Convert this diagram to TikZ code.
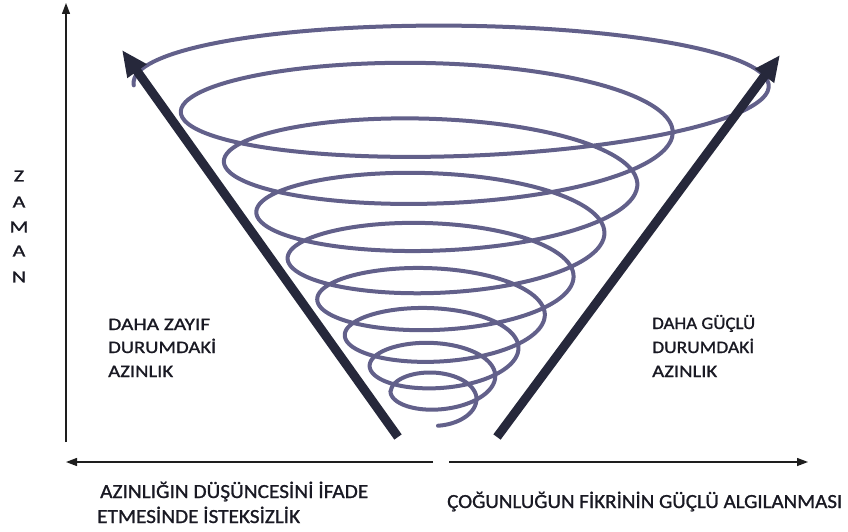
\documentclass[tikz,border=0pt]{standalone}
\usepackage{fontspec}
\setmainfont{Carlito}
\newfontfamily\lblfont{Carlito}[FakeBold=1]
\usepackage{graphicx}
\usetikzlibrary{arrows.meta}
\definecolor{spiralc}{RGB}{98,96,138}
\definecolor{arrc}{RGB}{38,40,59}
\definecolor{axc}{RGB}{30,30,30}
\definecolor{txc}{RGB}{25,25,35}
\newcommand{\fitw}[2]{\resizebox{#1}{\height}{#2}}
\begin{document}
\begin{tikzpicture}[x=1pt,y=-1pt,
  declare function={
    ww(\u)=32.4+217.6*pow((9-\u)/8,1.3)+60*exp(-((\u-0.4)/0.45)*((\u-0.4)/0.45));
    pp(\u)=64.25-5.17*\u;
    hh(\u)=1.05*pp(\u)-10*exp(-\u);
    cyy(\u)=41.33+64.25*\u-2.583*\u*\u+44*exp(-2*\u);
    cxx(\u)=438+9*exp(-\u);
  },
  axis/.style={draw=axc,line width=1.3pt},
  bigarrow/.style={draw=arrc,line width=9pt,-{Triangle[length=26pt,width=22pt]}},
  txt/.style={inner sep=0pt,text=txc,font=\lblfont\fontsize{17.5}{21}\selectfont},
  btxt/.style={inner sep=0pt,text=txc,font=\lblfont\fontsize{20}{24}\selectfont},
  ztxt/.style={inner sep=0pt,text=txc,font=\lblfont\fontsize{17}{20}\selectfont}
]
\useasboundingbox (0,0) rectangle (848,532);
\fill[white] (0,0) rectangle (848,532);

% axes
\coordinate (vb) at (66,442);
\coordinate (vt) at (66,3);
\draw[axis,-{Triangle[length=11pt,width=8pt]}] (vb) -- (vt);
\coordinate (hl0) at (433,462);
\coordinate (hl1) at (66,462);
\coordinate (hr0) at (449,462);
\coordinate (hr1) at (808,462);
\draw[axis,-{Triangle[length=11pt,width=8pt]}] (hl0) -- (hl1);
\draw[axis,-{Triangle[length=11pt,width=8pt]}] (hr0) -- (hr1);

% spiral
\draw[spiralc,line width=4pt,line cap=round,line join=round]
  plot[domain=0:3150,samples=900,smooth,variable=\t]
  ({cxx(\t/360)-ww(\t/360)*cos(\t)},{cyy(\t/360)-hh(\t/360)*sin(\t)});

% thick arrows
\coordinate (la0) at (398,437);
\coordinate (la1) at (122,50);
\coordinate (ra0) at (497,437);
\coordinate (ra1) at (780,55);
\draw[bigarrow] (la0) -- (la1);
\draw[bigarrow] (ra0) -- (ra1);

% ZAMAN
\node[ztxt] (z1) at (19,176) {\scalebox{1.3}[1]{Z}};
\node[ztxt] (z2) at (19,202) {\scalebox{1.3}[1]{A}};
\node[ztxt] (z3) at (19,227) {\scalebox{1.3}[1]{M}};
\node[ztxt] (z4) at (19,251) {\scalebox{1.3}[1]{A}};
\node[ztxt] (z5) at (19,277) {\scalebox{1.3}[1]{N}};

% left labels
\node[txt,anchor=base west] (l1) at (108,330) {\fitw{102pt}{DAHA ZAYIF}};
\node[txt,anchor=base west] (l2) at (108,353) {\fitw{108pt}{DURUMDAKİ}};
\node[txt,anchor=base west] (l3) at (108,377) {\fitw{65pt}{AZINLIK}};

% right labels
\node[txt,anchor=base west] (r1) at (652,329) {\fitw{103pt}{DAHA GÜÇLÜ}};
\node[txt,anchor=base west] (r2) at (652,353) {\fitw{102pt}{DURUMDAKİ}};
\node[txt,anchor=base west] (r3) at (652,377) {\fitw{65pt}{AZINLIK}};

% bottom labels
\node[btxt,anchor=base west] (b1) at (100,498) {\fitw{268pt}{AZINLIĞIN DÜŞÜNCESİNİ İFADE}};
\node[btxt,anchor=base west] (b2) at (97,523) {\fitw{203pt}{ETMESİNDE İSTEKSİZLİK}};
\node[btxt,anchor=base west] (b3) at (447,508) {\fitw{395pt}{ÇOĞUNLUĞUN FİKRİNİN GÜÇLÜ ALGILANMASI}};
\end{tikzpicture}
\end{document}
